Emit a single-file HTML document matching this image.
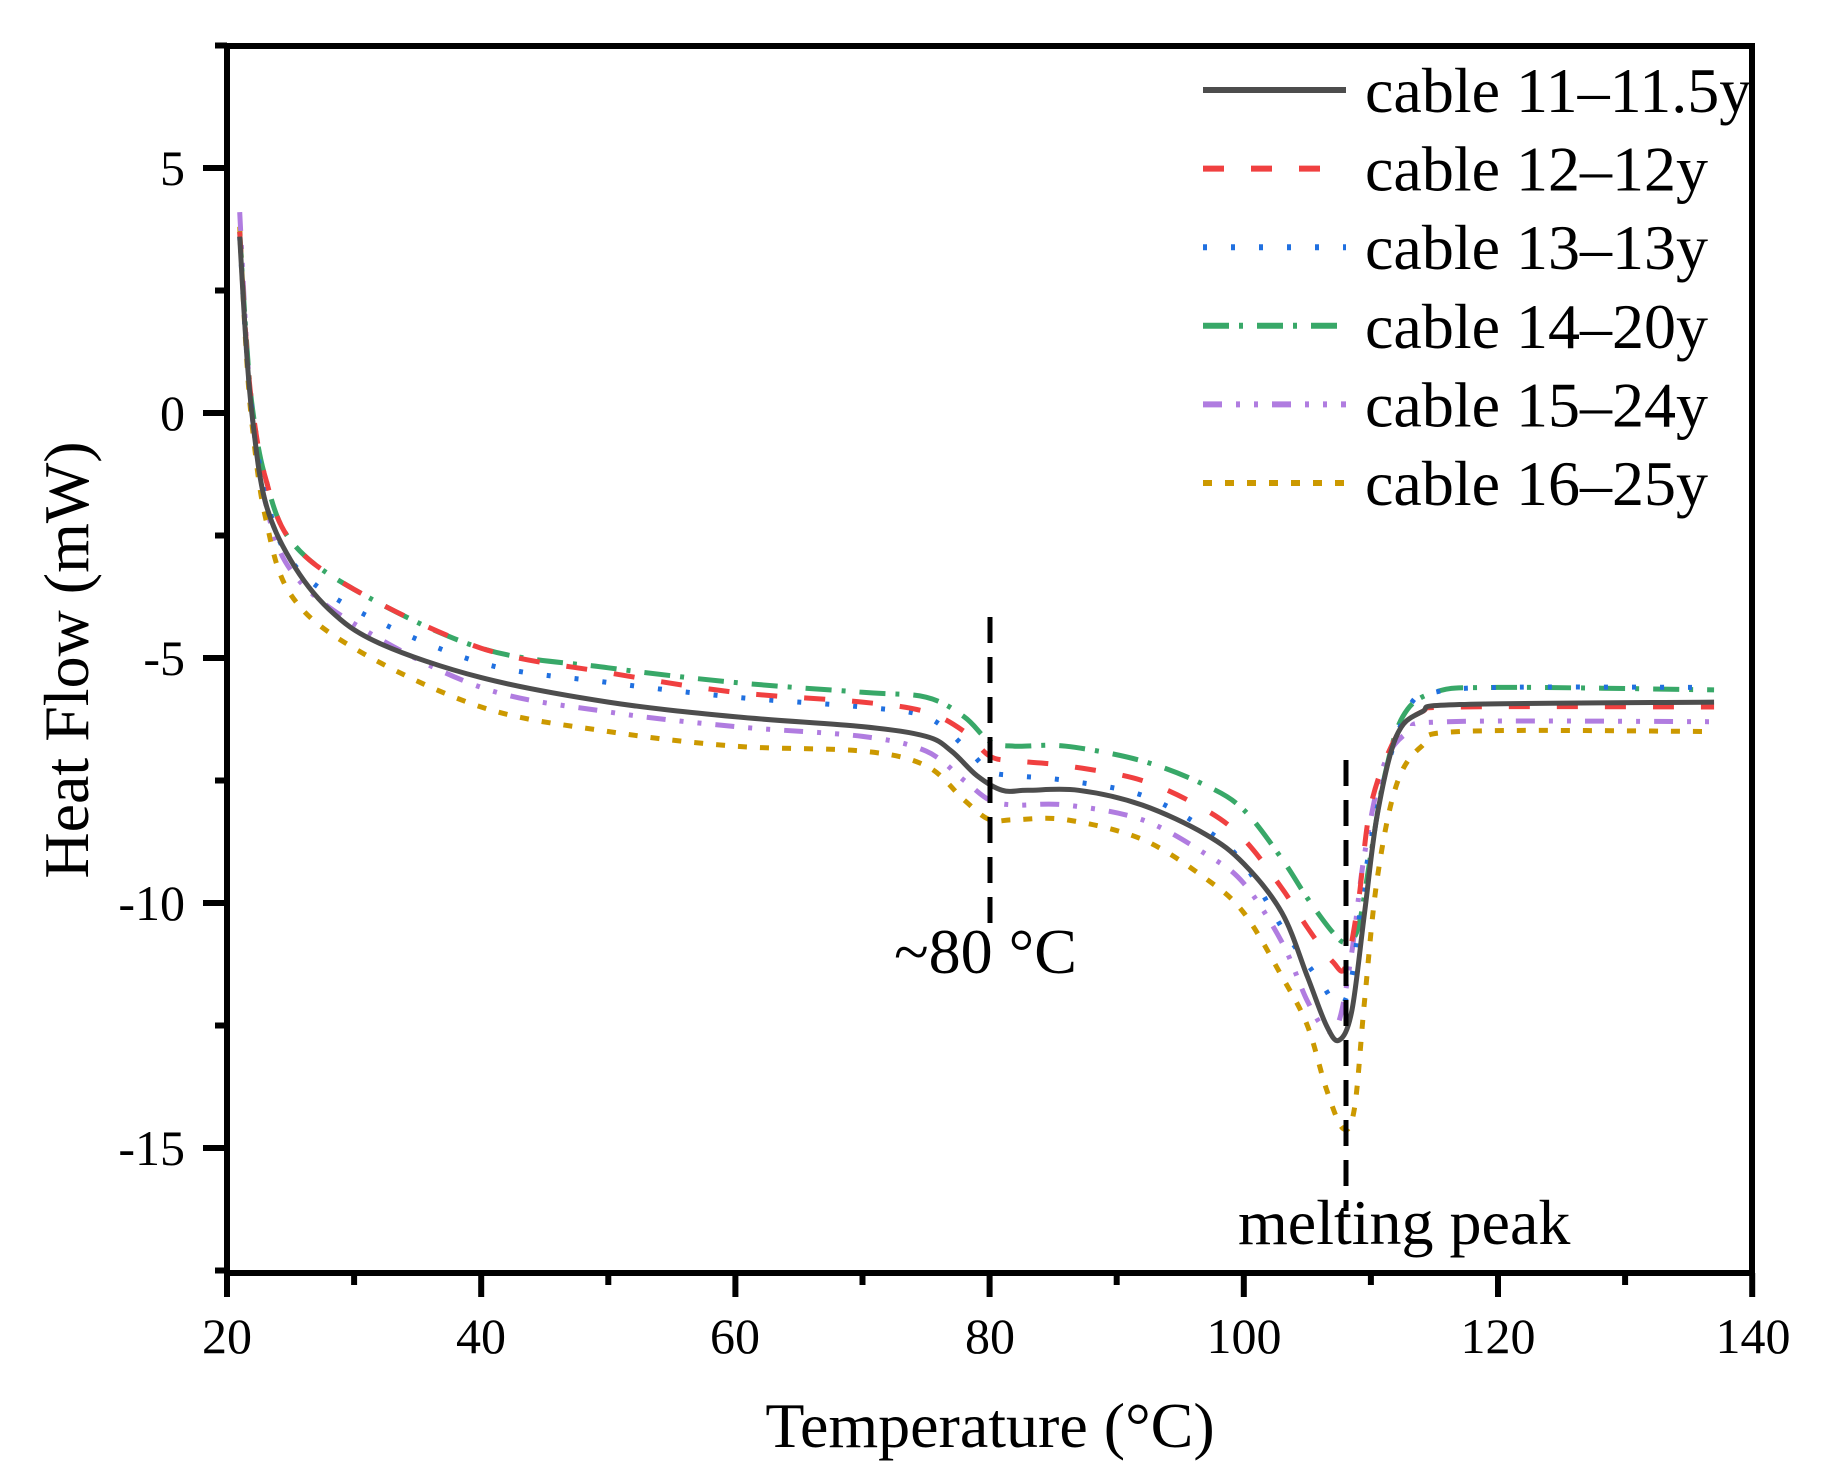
<!DOCTYPE html>
<html><head><meta charset="utf-8"><style>
html,body{margin:0;padding:0;background:#fff;}
svg{display:block;font-family:"Liberation Serif",serif;}
</style></head><body>
<svg id="s" width="1831" height="1481" viewBox="0 0 1831 1481" xmlns="http://www.w3.org/2000/svg">
<rect width="1831" height="1481" fill="#fff"/>
<g id="curves" fill="none" stroke-width="5"></g>
<rect x="227" y="46" width="1525" height="1227" fill="none" stroke="#000" stroke-width="6"/>
<g id="ticks" stroke="#000" stroke-width="6"></g>
<g font-size="50" fill="#000" text-anchor="middle">
<text x="227" y="1353">20</text><text x="481" y="1353">40</text><text x="735" y="1353">60</text><text x="990" y="1353">80</text><text x="1244" y="1353">100</text><text x="1498" y="1353">120</text><text x="1753" y="1353">140</text>
</g>
<g font-size="50" fill="#000" text-anchor="end">
<text x="185" y="185">5</text><text x="185" y="430">0</text><text x="185" y="675">-5</text><text x="185" y="920">-10</text><text x="185" y="1165">-15</text>
</g>
<text x="990" y="1447" font-size="64" text-anchor="middle">Temperature (°C)</text>
<text transform="translate(88,660) rotate(-90)" font-size="64" text-anchor="middle">Heat Flow (mW)</text>
<g stroke="#000" stroke-width="5" stroke-dasharray="26 14">
<line x1="990" y1="617" x2="990" y2="935"/>
<line x1="1346" y1="760" x2="1346" y2="1211"/>
</g>
<text x="894" y="973" font-size="64">~80 °C</text>
<text x="1238" y="1244" font-size="64">melting peak</text>
<g id="legend" font-size="64"></g>
</svg>
<script>
var X=function(t){return 227+(t-20)*12.71},Y=function(v){return 413-49*v};
var start=[[21,3.8],[21.5,1.5],[22,0],[23,-1.5],[24,-2.3]];
var S=[
{c:"#4d4d4d",d:"",p:[[21,3.6],[21.5,1.4],[22,-0.1],[23,-1.8],[25,-3.0],[28,-4.0],[32,-4.7],[40,-5.4],[50,-5.9],[60,-6.2],[70,-6.4],[75,-6.6],[77,-6.9],[79,-7.4],[81,-7.7],[83,-7.7],[87,-7.7],[92,-8.0],[97,-8.6],[100,-9.2],[103,-10.2],[105,-11.5],[106.5,-12.5],[107.5,-12.8],[108.5,-12.2],[109.5,-10.2],[110.5,-8.2],[112,-6.6],[114,-6.1],[117,-5.95],[137,-5.9]]},
{c:"#f04040",d:"21 27",p:[[21,3.7],[21.5,1.5],[22,0.1],[23,-1.3],[25,-2.6],[30,-3.6],[40,-4.8],[50,-5.3],[60,-5.7],[70,-5.9],[75,-6.1],[78,-6.5],[80,-7.0],[82,-7.1],[86,-7.2],[92,-7.5],[97,-8.1],[100,-8.7],[103,-9.7],[105,-10.5],[107,-11.2],[108,-11.3],[109,-10],[110,-8],[112,-6.6],[114,-6.1],[117,-6.0],[137,-6.0]]},
{c:"#2070e0",d:"4 24",p:[[21,3.6],[21.5,1.4],[22,0],[23,-1.6],[25,-3.0],[30,-4.0],[40,-5.1],[50,-5.5],[60,-5.8],[70,-6.0],[75,-6.2],[78,-6.8],[80,-7.3],[82,-7.4],[86,-7.5],[92,-7.8],[97,-8.5],[100,-9.2],[103,-10.5],[106,-11.6],[107.5,-12.1],[108.5,-11.5],[109.5,-9.5],[111,-7.5],[113,-6.0],[115,-5.7],[120,-5.6],[137,-5.6]]},
{c:"#38a868",d:"26 10 4 14",p:[[21,3.7],[21.5,1.6],[22,0.1],[23,-1.3],[25,-2.6],[30,-3.6],[40,-4.8],[50,-5.2],[60,-5.5],[70,-5.7],[75,-5.8],[78,-6.2],[80,-6.7],[82,-6.8],[86,-6.8],[92,-7.1],[97,-7.6],[100,-8.1],[103,-9.1],[105,-9.9],[107,-10.6],[108,-10.8],[109,-10.5],[110,-9],[111,-7.5],[112.5,-6.2],[115,-5.7],[120,-5.6],[137,-5.65]]},
{c:"#b07ce0",d:"19 14 4 14 4 14",p:[[21,4.1],[21.5,1.6],[22,-0.1],[23,-1.8],[25,-3.2],[30,-4.3],[40,-5.6],[50,-6.1],[60,-6.4],[70,-6.6],[75,-6.9],[78,-7.5],[80,-7.9],[82,-8.0],[86,-8.0],[92,-8.3],[97,-9.0],[100,-9.6],[103,-10.8],[105,-12.0],[106.5,-12.6],[107.5,-12.4],[108.5,-11],[109.5,-9],[111,-7.2],[113,-6.5],[116,-6.3],[137,-6.3]]},
{c:"#cc9900",d:"9 13",p:[[21,3.8],[21.5,1.3],[22,-0.3],[23,-2.1],[25,-3.7],[30,-4.8],[40,-6.0],[50,-6.5],[60,-6.8],[70,-6.9],[75,-7.2],[78,-7.9],[80,-8.3],[82,-8.3],[86,-8.3],[92,-8.7],[97,-9.5],[100,-10.2],[103,-11.5],[105,-12.5],[106.5,-13.8],[107.8,-14.6],[108.7,-14.2],[109.5,-12],[110.5,-9.5],[112,-7.6],[114,-6.8],[117,-6.5],[137,-6.5]]}
];
var NS="http://www.w3.org/2000/svg";
function path(pts){var P=pts.map(function(p){return [X(p[0]),Y(p[1])]});var d="M"+P[0][0]+","+P[0][1];
for(var i=0;i<P.length-1;i++){var p0=P[i-1]||P[i],p1=P[i],p2=P[i+1],p3=P[i+2]||P[i+1];
d+=" C"+(p1[0]+(p2[0]-p0[0])/6)+","+(p1[1]+(p2[1]-p0[1])/6)+" "+(p2[0]-(p3[0]-p1[0])/6)+","+(p2[1]-(p3[1]-p1[1])/6)+" "+p2[0]+","+p2[1];}return d;}
var g=document.getElementById("curves"),lg=document.getElementById("legend");
S.slice().reverse().forEach(function(s){var e=document.createElementNS(NS,"path");e.setAttribute("d",path(s.p));e.setAttribute("stroke",s.c);if(s.d)e.setAttribute("stroke-dasharray",s.d);g.appendChild(e);});
var names=["cable 11–11.5y","cable 12–12y","cable 13–13y","cable 14–20y","cable 15–24y","cable 16–25y"];
S.forEach(function(s,i){var y=90+i*78.6;var l=document.createElementNS(NS,"line");l.setAttribute("x1",1203);l.setAttribute("x2",1346);l.setAttribute("y1",y);l.setAttribute("y2",y);l.setAttribute("stroke",s.c);l.setAttribute("stroke-width",6);if(s.d)l.setAttribute("stroke-dasharray",s.d);lg.appendChild(l);
var t=document.createElementNS(NS,"text");t.setAttribute("x",1365);t.setAttribute("y",y+22);t.textContent=names[i];lg.appendChild(t);});
var tk=document.getElementById("ticks"),h="";
for(var v=20;v<=140;v+=10){var x=X(v);h+='<line x1="'+x+'" y1="1273" x2="'+x+'" y2="'+(v%20==0?1297:1285)+'"/>';}
for(var v=-17.5;v<=7.5;v+=2.5){var y=Y(v);var major=Math.abs(v%5)<0.01;h+='<line x1="227" y1="'+y+'" x2="'+(major?203:215)+'" y2="'+y+'"/>';}
tk.innerHTML=h;
</script>
</body></html>
